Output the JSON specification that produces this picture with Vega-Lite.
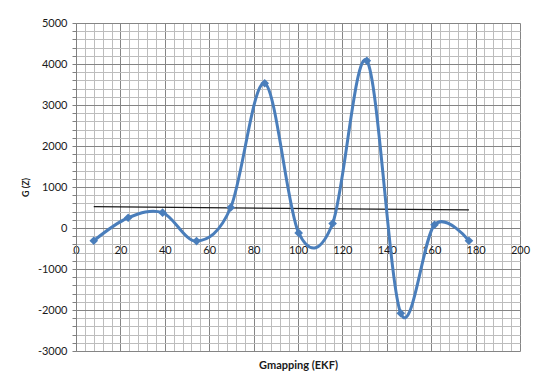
{
  "$schema": "https://vega.github.io/schema/vega-lite/v6.json",
  "width": 444,
  "height": 328,
  "autosize": {"type": "none"},
  "padding": {"left": 76, "top": 23, "right": 25, "bottom": 39},
  "background": "white",
  "config": {
    "view": {"stroke": null},
    "font": "Lato",
    "axis": {"labelColor": "#1a1a1a", "titleColor": "#1a1a1a", "domainColor": "#808080", "tickColor": "#808080"}
  },
  "datasets": {
    "series": [
      {"x": 8.0, "y": -310},
      {"x": 23.5, "y": 250},
      {"x": 39.0, "y": 375},
      {"x": 54.3, "y": -320},
      {"x": 69.7, "y": 500},
      {"x": 85.0, "y": 3530},
      {"x": 100.3, "y": -120},
      {"x": 115.6, "y": 110},
      {"x": 131.0, "y": 4080},
      {"x": 146.3, "y": -2080},
      {"x": 161.5, "y": 80},
      {"x": 177.0, "y": -310}
    ],
    "trend": [
      {"x": 8.0, "y": 520},
      {"x": 177.0, "y": 440}
    ]
  },
  "encoding": {
    "x": {
      "field": "x",
      "type": "quantitative",
      "scale": {"domain": [0, 200], "nice": false, "zero": false},
      "axis": {
        "title": "Gmapping (EKF)",
        "values": [0,4,8,12,16,20,24,28,32,36,40,44,48,52,56,60,64,68,72,76,80,84,88,92,96,100,104,108,112,116,120,124,128,132,136,140,144,148,152,156,160,164,168,172,176,180,184,188,192,196,200],
        "labelExpr": "datum.value % 20 === 0 ? '' + datum.value : ''",
        "offset": -123,
        "grid": true,
        "gridColor": {"condition": {"test": "datum.value % 20 === 0", "value": "#858585"}, "value": "#bdbdbd"},
        "gridWidth": 1,
        "ticks": false,
        "labelPadding": 16,
        "labelFontSize": 11,
        "labelOverlap": false,
        "labelFlush": false,
        "titleFontSize": 11,
        "titleFontWeight": "bold",
        "titleBaseline": "middle",
        "titleY": 137
      }
    },
    "y": {
      "field": "y",
      "type": "quantitative",
      "scale": {"domain": [-3000, 5000], "nice": false, "zero": false},
      "axis": {
        "title": "G (Z)",
        "values": [-3000,-2800,-2600,-2400,-2200,-2000,-1800,-1600,-1400,-1200,-1000,-800,-600,-400,-200,0,200,400,600,800,1000,1200,1400,1600,1800,2000,2200,2400,2600,2800,3000,3200,3400,3600,3800,4000,4200,4400,4600,4800,5000],
        "labelExpr": "datum.value % 1000 === 0 ? '' + datum.value : ''",
        "grid": true,
        "gridColor": {"condition": {"test": "datum.value % 1000 === 0", "value": "#858585"}, "value": "#bdbdbd"},
        "gridWidth": 1,
        "tickSize": 4,
        "labelPadding": 5,
        "labelFontSize": 11,
        "labelOverlap": false,
        "labelFlush": false,
        "titleFontSize": 9,
        "titleFontWeight": "bold",
        "titleX": -46
      }
    }
  },
  "layer": [
    {
      "data": {"name": "trend"},
      "mark": {"type": "line", "color": "#1a1a1a", "strokeWidth": 1.2}
    },
    {
      "data": {"name": "series"},
      "mark": {"type": "line", "interpolate": "cardinal", "color": "#4A7EBB", "strokeWidth": 3}
    },
    {
      "data": {"name": "series"},
      "mark": {"type": "point", "shape": "diamond", "filled": true, "size": 75, "color": "#4A7EBB", "opacity": 1}
    }
  ]
}
